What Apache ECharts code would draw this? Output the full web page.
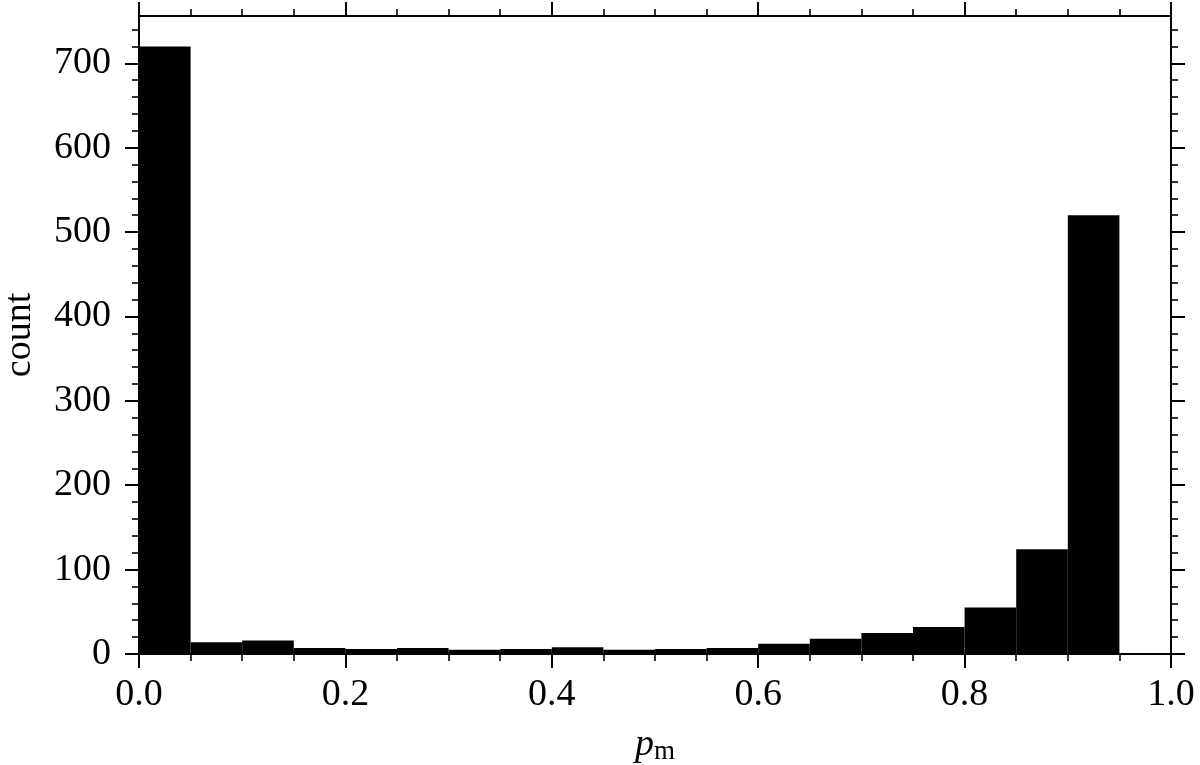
<!DOCTYPE html>
<html>
<head>
<meta charset="utf-8">
<script src="https://cdn.jsdelivr.net/npm/echarts@6/dist/echarts.min.js"></script>
<style>
html,body{margin:0;padding:0;background:#fff;}
#c{width:1200px;height:765px;}
</style>
</head>
<body>
<div id="c"></div>
<script>
const binStarts = [0.00,0.05,0.10,0.15,0.20,0.25,0.30,0.35,0.40,0.45,0.50,0.55,0.60,0.65,0.70,0.75,0.80,0.85,0.90,0.95];
const binEnds   = [0.05,0.10,0.15,0.20,0.25,0.30,0.35,0.40,0.45,0.50,0.55,0.60,0.65,0.70,0.75,0.80,0.85,0.90,0.95,1.00];
const counts    = [720,14,16,7,6,7,5,6,8,5,6,7,12,18,25,32,55,124,520,0];
const yMajorTicks = [0,100,200,300,400,500,600,700];
const yMinorTicks = [20,40,60,80,120,140,160,180,220,240,260,280,320,340,360,380,420,440,460,480,520,540,560,580,620,640,660,680,720,740];
const xLabel = 'p';
const xLabelSub = 'm';
const yLabel = 'count';

const FONT = 'Liberation Serif';
const data = counts.map((c,i)=>[binStarts[i], binEnds[i], c]);

const chart = echarts.init(document.getElementById('c'), null, {renderer:'canvas'});
const lineStyle = {color:'#000', width:2};
const majorTick = {show:true, inside:false, length:14, lineStyle:{color:'#000', width:2}};
const minorTickX = {show:true, splitNumber:4, length:7, lineStyle:{color:'#000', width:1.6}};
const gridBox = {left:139, right:29, top:16, bottom:111, containLabel:false, outerBoundsMode:'none'};

chart.setOption({
  animation:false,
  backgroundColor:'#fff',
  grid:[Object.assign({}, gridBox), Object.assign({}, gridBox)],
  xAxis:[
    {type:'value', gridIndex:0, min:0, max:1, interval:0.2, position:'bottom',
     axisLine:{show:true, onZero:false, lineStyle}, axisTick:majorTick, minorTick:minorTickX,
     splitLine:{show:false},
     axisLabel:{show:true, margin:22, color:'#000', fontFamily:FONT, fontSize:38,
       formatter:v=>v.toFixed(1)},
     name:'{i|'+xLabel+'}{s|'+xLabelSub+'}', nameLocation:'middle', nameGap:72,
     nameTextStyle:{rich:{i:{fontFamily:FONT, fontStyle:'italic', fontSize:38, color:'#000'},
                          s:{fontFamily:FONT, fontSize:27, color:'#000', padding:[12,0,0,0]}}}
    },
    {type:'value', gridIndex:0, min:0, max:1, interval:0.2, position:'top',
     axisLine:{show:true, onZero:false, lineStyle}, axisTick:majorTick, minorTick:minorTickX,
     splitLine:{show:false}, axisLabel:{show:false}},
    {type:'value', gridIndex:1, min:0, max:1, show:false}
  ],
  yAxis:[
    {type:'value', gridIndex:0, min:0, max:756, interval:100, position:'left',
     axisLine:{show:true, onZero:false, lineStyle},
     axisTick:Object.assign({customValues:yMajorTicks}, majorTick),
     splitLine:{show:false},
     axisLabel:{show:true, customValues:yMajorTicks, margin:28, color:'#000', fontFamily:FONT, fontSize:38},
     name:yLabel, nameLocation:'middle', nameGap:100,
     nameTextStyle:{fontFamily:FONT, fontSize:38, color:'#000'}
    },
    {type:'value', gridIndex:0, min:0, max:756, interval:100, position:'right',
     axisLine:{show:true, onZero:false, lineStyle},
     axisTick:Object.assign({customValues:yMajorTicks}, majorTick),
     splitLine:{show:false}, axisLabel:{show:false}},
    {type:'value', gridIndex:1, min:0, max:756, position:'left',
     axisLine:{show:false},
     axisTick:{show:true, inside:false, length:7, customValues:yMinorTicks, lineStyle:{color:'#000', width:1.6}},
     splitLine:{show:false}, axisLabel:{show:false}},
    {type:'value', gridIndex:1, min:0, max:756, position:'right',
     axisLine:{show:false},
     axisTick:{show:true, inside:false, length:7, customValues:yMinorTicks, lineStyle:{color:'#000', width:1.6}},
     splitLine:{show:false}, axisLabel:{show:false}}
  ],
  series:[{
    type:'custom',
    xAxisIndex:0, yAxisIndex:0,
    data:data,
    encode:{x:[0,1], y:2},
    renderItem:function(params, api){
      const p0 = api.coord([api.value(0), api.value(2)]);
      const p1 = api.coord([api.value(1), 0]);
      return {type:'rect', shape:{x:p0[0], y:p0[1], width:p1[0]-p0[0], height:p1[1]-p0[1]},
              style:{fill:'#000', stroke:null}};
    },
    z:1
  }]
});
</script>
</body>
</html>
